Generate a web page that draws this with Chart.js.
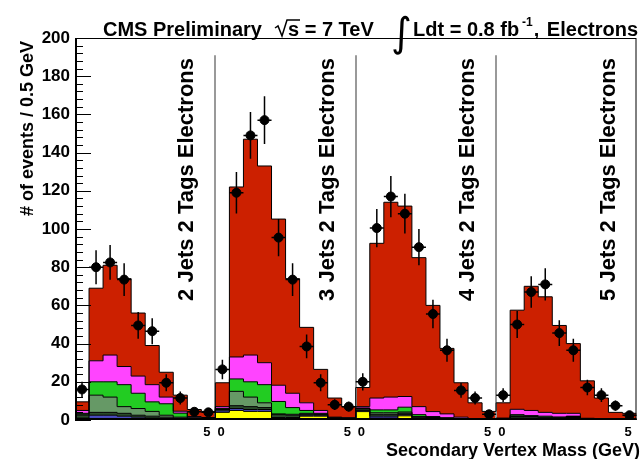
<!DOCTYPE html>
<html>
<head>
<meta charset="utf-8">
<script src="https://cdn.jsdelivr.net/npm/chart.js@4.4.1/dist/chart.umd.min.js"></script>
<style>
  html, body { margin: 0; padding: 0; background: #fff; }
  canvas { display: block; }
</style>
</head>
<body>
<canvas id="svMass" width="642" height="459"></canvas>
<script>
// secondary vertex mass, 10 bins of 0.5 GeV per jet multiplicity,
// the four jet bins (2, 3, 4, 5 jets) are laid end to end -> 40 bins
var panelNames = ["2 Jets 2 Tags Electrons", "3 Jets 2 Tags Electrons", "4 Jets 2 Tags Electrons", "5 Jets 2 Tags Electrons"];
var xTickPos = [9.4, 10.4, 19.4, 20.4, 29.4, 30.4, 39.4];
var xTickLabels = ["5", "0", "5", "0", "5", "0", "5"];

// stack components, bottom to top
var qcd = [0.3, 0.8, 0.8, 0.5, 0.3, 0.2, 0.1, 0.1, 0, 0,
           4, 5, 4.5, 4.5, 0.5, 0.5, 2, 2, 0.3, 0.2,
           4.4, 1, 1, 2.2, 0.3, 0.2, 0.1, 0.1, 0, 0,
           0.1, 0.5, 0.3, 0.2, 0.2, 1, 0, 0, 0, 0];
var zjets = [0.7, 1.7, 1.7, 1.5, 1.2, 0.8, 0.7, 0.4, 0.3, 0.3,
             0.8, 1, 1, 1, 0.8, 0.8, 0.5, 0.5, 0.3, 0.2,
             0.6, 1, 1, 0.6, 0.5, 0.4, 0.3, 0.2, 0.1, 0.1,
             0.2, 0.5, 0.5, 0.4, 0.3, 0.3, 0.2, 0.1, 0.1, 0.1];
var wqq = [1.5, 1.5, 1.5, 1.5, 1, 1, 0.7, 0.5, 0.3, 0.2,
           0.7, 1.5, 1.5, 1, 1.5, 1.2, 0.5, 0.3, 0.2, 0.2,
           0.8, 1, 1, 0.8, 0.6, 0.4, 0.3, 0.2, 0.1, 0.1,
           0.2, 0.8, 0.7, 0.6, 0.5, 0.3, 0.2, 0.2, 0.1, 0.1];
var wcc = [0.5, 9, 8, 3.5, 3.5, 2.5, 1, 0.5, 0.3, 0.3,
           0.3, 7.5, 5, 2.5, 0.4, 0.5, 0.5, 0.3, 0.2, 0.2,
           0.2, 0.8, 0.8, 0.6, 0.4, 0.3, 0.2, 0.1, 0.1, 0,
           0.1, 0.4, 0.3, 0.3, 0.2, 0.2, 0.1, 0.1, 0, 0];
var wbb = [0.5, 7, 8, 11.5, 8, 5, 6, 2.1, 0.3, 0.2,
           0.3, 6.5, 8, 9.5, 6.5, 3.5, 1.5, 0.4, 0.2, 0.2,
           0.3, 1.5, 1.5, 2.5, 1, 0.5, 0.3, 0.2, 0.1, 0.1,
           0.1, 0.6, 0.5, 0.5, 0.4, 0.2, 0.1, 0.1, 0.1, 0.1];
var singleTop = [1.5, 11, 14, 9.5, 9, 9, 3.5, 1, 0.6, 0.3,
                 0.9, 11.5, 14, 11.5, 8.5, 7.5, 4, 1.5, 0.3, 0.2,
                 0.7, 6.2, 6.7, 5.6, 4.2, 2.6, 2, 0.7, 0.2, 0.1,
                 0.3, 2.8, 2.7, 2, 1.9, 1.5, 0.3, 0.2, 0.1, 0.1];
var ttbar = [4.5, 38, 47, 46, 33, 20.5, 13, 8.4, 3.7, 3.2,
             12.5, 89, 113, 103, 87, 60, 39.5, 21.5, 10, 5.8,
             10, 81, 102, 99.7, 78, 55.6, 34.3, 18, 8.4, 4.1,
             8, 51.9, 65, 60.5, 46, 36.5, 19.6, 10.8, 3.6, 3.1];

// observed events and their errors
var observed = [16, 80, 82.5, 73.5, 49.5, 46.5, 19.5, 11.5, 4.3, 4,
                26.5, 119, 149, 157, 95.5, 73.5, 38.5, 19.5, 8, 7,
                20, 100.5, 117, 108, 90.5, 55.5, 36.5, 15.5, 11.5, 3,
                13, 50, 67, 71, 45.5, 36.5, 17, 13, 7.5, 2.5];
var observedErr = [4, 8.9, 9.1, 8.6, 7, 6.8, 4.4, 3.4, 2.1, 2,
                   5.1, 10.9, 12.2, 12.5, 9.8, 8.6, 6.2, 4.4, 2.8, 2.6,
                   4.5, 10, 10.8, 10.4, 9.5, 7.5, 6, 3.9, 3.4, 1.7,
                   3.6, 7.1, 8.2, 8.4, 6.7, 6, 4.1, 3.6, 2.7, 1.6];

var FONT = '"Liberation Sans", Arial, Helvetica, sans-serif';

// histogram as a step line: one point per left bin edge plus the closing edge
function histPoints(vals) {
    var pts = [];
    for (var i = 0; i < vals.length; i++) pts.push({x: i, y: vals[i]});
    pts.push({x: vals.length, y: vals[vals.length - 1]});
    return pts;
}

function histLayer(label, vals, color, fill) {
    return {
        label: label,
        data: histPoints(vals),
        backgroundColor: color,
        borderColor: '#000',
        borderWidth: 1,
        pointRadius: 0,
        stepped: 'before',
        fill: fill,
        order: 1
    };
}

var obsPoints = observed.map(function(v, i) { return {x: i + 0.5, y: v}; });

var decorations = {
    id: 'decorations',
    beforeDatasetsDraw: function(chart) {
        var ctx = chart.ctx, x = chart.scales.x, y = chart.scales.y;
        ctx.save();
        ctx.strokeStyle = '#999';
        ctx.lineWidth = 2;
        [10, 20, 30].forEach(function(b) {
            var px = Math.round(x.getPixelForValue(b));
            ctx.beginPath();
            ctx.moveTo(px, y.getPixelForValue(191));
            ctx.lineTo(px, y.getPixelForValue(0));
            ctx.stroke();
        });
        ctx.restore();
    },
    afterDatasetsDraw: function(chart) {
        // error bars: full bin width horizontally, +-err vertically
        var ctx = chart.ctx, x = chart.scales.x, y = chart.scales.y;
        ctx.save();
        ctx.strokeStyle = '#000';
        ctx.lineWidth = 1.5;
        for (var i = 0; i < observed.length; i++) {
            var cx = x.getPixelForValue(i + 0.5);
            var cy = y.getPixelForValue(observed[i]);
            ctx.beginPath();
            ctx.moveTo(x.getPixelForValue(i), cy);
            ctx.lineTo(x.getPixelForValue(i + 1), cy);
            ctx.moveTo(cx, y.getPixelForValue(observed[i] + observedErr[i]));
            ctx.lineTo(cx, y.getPixelForValue(Math.max(0, observed[i] - observedErr[i])));
            ctx.stroke();
        }
        ctx.restore();
    },
    afterDraw: function(chart) {
        var ctx = chart.ctx, a = chart.chartArea, x = chart.scales.x, y = chart.scales.y;
        ctx.save();

        // frame
        ctx.strokeStyle = '#000';
        ctx.lineWidth = 1;
        ctx.strokeRect(a.left + 0.5, a.top + 0.5, a.right - a.left - 1, a.bottom - a.top - 1);
        ctx.lineWidth = 2;
        ctx.beginPath();
        ctx.moveTo(a.left + 1, a.top);
        ctx.lineTo(a.left + 1, a.bottom - 1);
        ctx.lineTo(a.right, a.bottom - 1);
        ctx.stroke();

        // inward y ticks, minor every 4
        ctx.lineWidth = 1;
        for (var v = 0; v <= 200; v += 4) {
            var py = Math.round(y.getPixelForValue(v)) + 0.5;
            var len = v % 20 === 0 ? 16 : 8;
            ctx.beginPath();
            ctx.moveTo(a.left, py);
            ctx.lineTo(a.left + len, py);
            ctx.stroke();
        }

        ctx.fillStyle = '#000';

        // jet bin labels, rotated
        ctx.font = 'bold 22px ' + FONT;
        ctx.textAlign = 'right';
        ctx.textBaseline = 'alphabetic';
        panelNames.forEach(function(name, p) {
            var edge = p < 3 ? x.getPixelForValue((p + 1) * 10) : a.right;
            ctx.save();
            ctx.translate(edge - 22, 58);
            ctx.rotate(-Math.PI / 2);
            ctx.fillText(name, 0, 0);
            ctx.restore();
        });

        // axis titles
        ctx.font = 'bold 18px ' + FONT;
        ctx.save();
        ctx.translate(33, 41);
        ctx.rotate(-Math.PI / 2);
        ctx.textAlign = 'right';
        ctx.fillText('# of events / 0.5 GeV', 0, 0);
        ctx.restore();
        ctx.textAlign = 'right';
        ctx.fillText('Secondary Vertex Mass (GeV)', 640, 456);

        // header
        ctx.textAlign = 'left';
        ctx.font = 'bold 20px ' + FONT;
        ctx.fillText('CMS Preliminary', 103, 36);
        ctx.lineWidth = 1.5;
        ctx.beginPath();
        ctx.moveTo(275, 28);
        ctx.lineTo(278, 26);
        ctx.lineTo(282, 36);
        ctx.lineTo(287, 20);
        ctx.lineTo(300, 20);
        ctx.stroke();
        ctx.fillText('s = 7 TeV', 288, 36);
        ctx.font = '40px "DejaVu Sans"';
        ctx.fillText('\u222B', 391, 46);
        ctx.font = 'bold 20px ' + FONT;
        var lumi = 'Ldt = 0.8 fb';
        ctx.fillText(lumi, 413, 36);
        var endX = 413 + ctx.measureText(lumi).width;
        ctx.font = 'bold 12px ' + FONT;
        ctx.fillText('-1', endX + 3, 26);
        endX += 3 + ctx.measureText('-1').width;
        ctx.font = 'bold 20px ' + FONT;
        ctx.fillText(',', endX + 1, 36);
        ctx.textAlign = 'right';
        ctx.fillText('Electrons', 638, 36);

        ctx.restore();
    }
};

var ctx = document.getElementById('svMass');
var chart = new Chart(ctx, {
    type: 'line',
    data: {
        datasets: [
            {
                label: 'Data',
                data: obsPoints,
                showLine: false,
                pointRadius: 4.5,
                pointBackgroundColor: '#000',
                pointBorderColor: '#000',
                stack: 'obs',
                fill: false,
                order: 0
            },
            histLayer('QCD', qcd, '#ffff00', 'origin'),
            histLayer('Z+jets', zjets, '#4a4ac0', '-1'),
            histLayer('W+light', wqq, '#2a4a2a', '-1'),
            histLayer('W+c', wcc, '#669966', '-1'),
            histLayer('W+b', wbb, '#22cc22', '-1'),
            histLayer('Single top', singleTop, '#ff44ff', '-1'),
            histLayer('ttbar', ttbar, '#cc2000', '-1')
        ]
    },
    options: {
        responsive: false,
        animation: false,
        devicePixelRatio: 1,
        events: [],
        layout: { padding: { left: 0, right: 4, top: 38, bottom: 0 } },
        plugins: {
            legend: { display: false },
            tooltip: { enabled: false },
            filler: { drawTime: 'beforeDatasetsDraw' }
        },
        scales: {
            x: {
                type: 'linear',
                min: 0,
                max: 40,
                grid: { display: false, drawTicks: false },
                border: { display: false },
                afterBuildTicks: function(scale) {
                    scale.ticks = xTickPos.map(function(v) { return {value: v}; });
                },
                afterFit: function(scale) { scale.height = 39; },
                ticks: {
                    autoSkip: false,
                    maxRotation: 0,
                    minRotation: 0,
                    padding: 5,
                    color: '#000',
                    font: { family: FONT, size: 13, weight: 'bold' },
                    callback: function(value, index) { return xTickLabels[index]; }
                }
            },
            y: {
                min: 0,
                max: 200,
                stacked: true,
                grid: { display: false, drawTicks: false },
                border: { display: false },
                afterFit: function(scale) { scale.width = 75; },
                ticks: {
                    stepSize: 20,
                    padding: 5,
                    color: '#000',
                    font: { family: FONT, size: 17, weight: 'bold' }
                }
            }
        }
    },
    plugins: [decorations]
});
</script>
</body>
</html>
